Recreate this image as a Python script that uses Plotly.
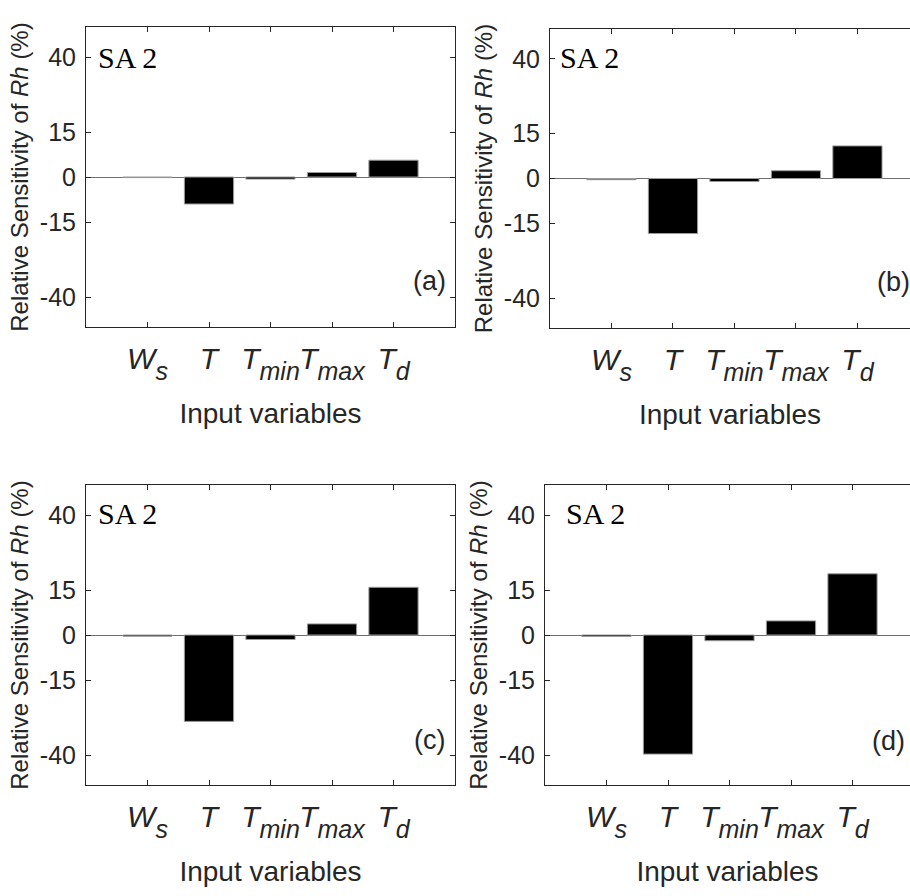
import plotly.graph_objects as go

# ---- data ----
categories = ["Ws", "T", "Tmin", "Tmax", "Td"]
tick_labels = [
    "<i>W</i><sub><sub><i><span style='font-size:25px'>s</span></i></sub></sub>",
    "<i>T</i>",
    "<i>T</i><sub><sub><i><span style='font-size:25px'>min</span></i></sub></sub>",
    "<i>T</i><sub><sub><i><span style='font-size:25px'>max</span></i></sub></sub>",
    "<i>T</i><sub><sub><i><span style='font-size:25px'>d</span></i></sub></sub>",
]
x_pos = [1, 2, 3, 4, 5]
panel_a = [-0.2, -9.0, -0.7, 1.5, 5.6]
panel_b = [-0.4, -18.4, -1.0, 2.6, 10.9]
panel_c = [-0.4, -28.8, -1.5, 3.7, 15.9]
panel_d = [-0.5, -39.7, -1.9, 4.7, 20.4]
y_ticks = [-40, -15, 0, 15, 40]
panel_tags = ["(a)", "(b)", "(c)", "(d)"]
sa_label = "SA 2"

W, H = 910, 896
FONT = "Liberation Sans, Arial, sans-serif"
TXT = "#262626"

# panel pixel boxes: (left, right, top, bottom, xmax)
boxes = [
    (86, 455, 27, 327, 6.0),
    (550, 910, 29, 328, 5.855),
    (86, 455, 485, 785, 6.0),
    (545, 910, 485, 785, 5.935),
]
values = [panel_a, panel_b, panel_c, panel_d]
sa_pos = [(0.028, 0.90), (0.023, 0.905), (0.028, 0.905), (0.051, 0.905)]
tag_pos = [(0.93, 0.152), (0.955, 0.154), (0.93, 0.15), (0.94, 0.147)]

fig = go.Figure()
layout = dict(
    width=W, height=H, margin=dict(l=0, r=0, t=0, b=0),
    paper_bgcolor="white", plot_bgcolor="white",
    template="none", showlegend=False,
    font=dict(family=FONT, color=TXT),
    bargap=0.2,
)
annotations = []
for i, (box, vals) in enumerate(zip(boxes, values)):
    l, r, t, b, xmax = box
    sfx = "" if i == 0 else str(i + 1)
    xa, ya = "x" + sfx, "y" + sfx
    fig.add_trace(go.Bar(
        x=x_pos, y=vals, xaxis=xa, yaxis=ya, width=0.8,
        marker=dict(color="black", line=dict(color="#9a9a9a", width=1)),
        hoverinfo="skip",
    ))
    right_panel = i in (1, 3)
    layout["xaxis" + sfx] = dict(
        domain=[l / W, r / W], range=[0, xmax], anchor=ya,
        tickvals=x_pos, ticktext=tick_labels, tickangle=0,
        ticks="inside", ticklen=5, tickwidth=1, tickcolor=TXT,
        showline=True, linecolor=TXT, linewidth=1, mirror="ticks",
        showgrid=False, zeroline=False, automargin=False,
        tickfont=dict(size=30, family=FONT, color=TXT),
        ticklabelstandoff=5,
        title=dict(text="Input variables", font=dict(size=28, family=FONT, color=TXT), standoff=19),
    )
    layout["yaxis" + sfx] = dict(
        domain=[1 - b / H, 1 - t / H], range=[-50, 50], anchor=xa,
        tickvals=y_ticks, ticktext=[str(v) for v in y_ticks],
        ticks="inside", ticklen=5, tickwidth=1, tickcolor=TXT,
        showline=True, linecolor=TXT, linewidth=1,
        mirror=False if right_panel else "ticks",
        showgrid=False, zeroline=True, zerolinecolor="#6e6e6e", zerolinewidth=1,
        automargin=False,
        tickfont=dict(size=25, family=FONT, color=TXT),
        ticklabelstandoff=4,
        title=dict(text="Relative Sensitivity of <i>Rh</i> (%)",
                   font=dict(size=24, family=FONT, color=TXT), standoff=4),
    )
    annotations.append(dict(
        text=sa_label, xref=xa + " domain", yref=ya + " domain",
        x=sa_pos[i][0], y=sa_pos[i][1], xanchor="left", yanchor="middle",
        showarrow=False, font=dict(family="Liberation Serif, Times New Roman, serif", size=30, color="black"),
    ))
    annotations.append(dict(
        text=panel_tags[i], xref=xa + " domain", yref=ya + " domain",
        x=tag_pos[i][0], y=tag_pos[i][1], xanchor="center", yanchor="middle",
        showarrow=False, font=dict(family=FONT, size=27, color=TXT),
    ))
layout["annotations"] = annotations
fig.update_layout(**layout)
fig.write_html(
    "out.html",
    config={"displayModeBar": False},
    post_script="document.body.style.margin='0';document.body.style.overflow='hidden';",
)
